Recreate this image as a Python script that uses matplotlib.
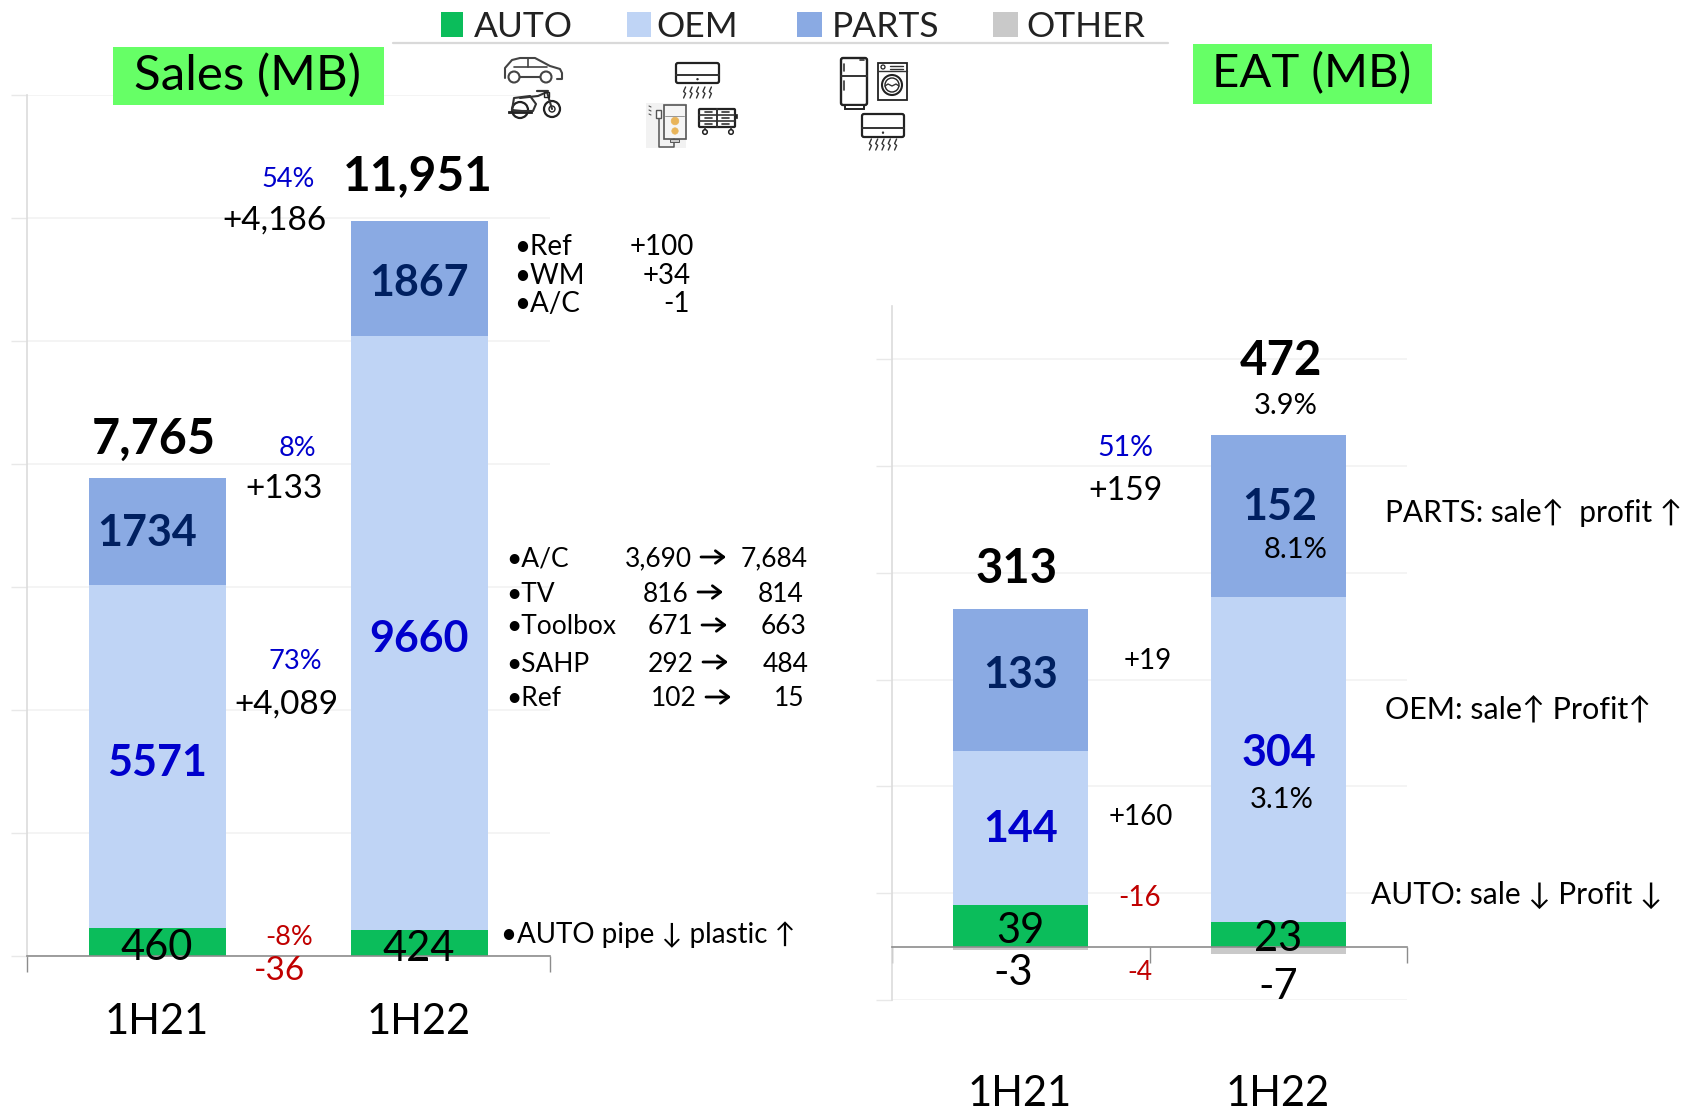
import matplotlib
matplotlib.use("Agg")
import matplotlib.pyplot as plt
from matplotlib.patches import Rectangle, Circle, FancyBboxPatch

plt.rcParams['font.family'] = ['Lato', 'DejaVu Sans']

W, H = 1693, 1115

categories = ["1H21", "1H22"]
series_names = ["AUTO", "OEM", "PARTS", "OTHER"]
series_colors = ["#0bbd5b", "#bfd4f5", "#8aaae3", "#c9c9c9"]

sales_auto = [460, 424]
sales_oem = [5571, 9660]
sales_parts = [1734, 1867]
sales_total = ["7,765", "11,951"]

eat_auto = [39, 23]
eat_oem = [144, 304]
eat_parts = [133, 152]
eat_other = [-3, -7]
eat_total = ["313", "472"]

BLUE, NAVY, RED = "#0000cc", "#002060", "#c00000"

fig = plt.figure(figsize=(W / 100, H / 100), dpi=100, facecolor="white")


def make_axes(x0, x1, ytop, ybot):
    return fig.add_axes([x0 / W, 1 - ybot / H, (x1 - x0) / W, (ybot - ytop) / H])


def style(ax, ylim, yticks, xticks):
    ax.set_xlim(-0.5, 1.5)
    ax.set_ylim(*ylim)
    ax.set_yticks(yticks)
    ax.set_xticks(xticks)
    ax.set_xticklabels([])
    ax.set_yticklabels([])
    ax.grid(axis="y", color="#f2f2f2", lw=1.2, zorder=0)
    ax.set_axisbelow(True)
    for s in ("top", "right"):
        ax.spines[s].set_visible(False)
    ax.spines["left"].set_color("#dcdcdc")
    ax.spines["left"].set_linewidth(1.2)
    ax.spines["bottom"].set_position(("data", 0))
    ax.spines["bottom"].set_color("#8c8c8c")
    ax.spines["bottom"].set_linewidth(1.2)
    ax.tick_params(axis="y", length=11.5, color="#e8e8e8", width=1)
    ax.tick_params(axis="x", length=11.5, color="#8c8c8c", width=1)


def stack(ax, layers, colors, width=0.525):
    x = range(len(categories))
    bottom = [0] * len(categories)
    for vals, col in zip(layers, colors):
        ax.bar(x, vals, width=width, bottom=bottom, color=col, zorder=2)
        bottom = [b + v for b, v in zip(bottom, vals)]


# Sales chart
ax1 = make_axes(27, 550, 95, 956)
style(ax1, (0, 14000), range(0, 14001, 2000), [-0.5, 1.5])
stack(ax1, [sales_auto, sales_oem, sales_parts], series_colors[:3])

# EAT chart
ax2 = make_axes(892, 1407, 306, 1000)
style(ax2, (-50, 600), range(-50, 551, 100), [-0.5, 0.5, 1.5])
stack(ax2, [eat_auto, eat_oem, eat_parts], series_colors[:3])
ax2.bar(range(2), eat_other, width=0.525, color=series_colors[3], zorder=2)

# Overlay in pixel space for annotations
ov = fig.add_axes([0, 0, 1, 1], facecolor="none")
ov.set_xlim(0, W)
ov.set_ylim(H, 0)
ov.axis("off")


def T(x, yc, s, pt, color="black", ha="center", weight="normal", z=6):
    ov.text(x, yc + pt / 2, s, fontsize=pt, color=color, ha=ha, va="baseline",
            fontweight=weight, zorder=z)


def L(xs, ys, lw=1.3, c="#333333", z=5):
    ov.plot(xs, ys, color=c, lw=lw, solid_capstyle="round", zorder=z)


def R(x0, y0, x1, y1, fc="none", ec="#222222", lw=1.3, z=5, round_=0):
    if round_:
        ov.add_patch(FancyBboxPatch((x0, y0), x1 - x0, y1 - y0,
                                    boxstyle=f"round,pad=0,rounding_size={round_}",
                                    fc=fc, ec=ec, lw=lw, zorder=z))
    else:
        ov.add_patch(Rectangle((x0, y0), x1 - x0, y1 - y0, fc=fc, ec=ec, lw=lw, zorder=z))


def C(x, y, r, fc="white", ec="#222222", lw=1.3, z=5):
    ov.add_patch(Circle((x, y), r, fc=fc, ec=ec, lw=lw, zorder=z))


# Title boxes
R(113, 47, 384, 105, fc="#66ff66", ec="none", z=4)
R(1193, 44, 1432, 104, fc="#66ff66", ec="none", z=4)
T(247, 72, "Sales (MB)", 35.5)
T(1312, 70, "EAT (MB)", 34)

# Legend
leg_sq = [(441, 463), (627, 651), (797, 822), (993, 1018)]
leg_tx = [474, 656, 832, 1026]
for (a, b), tx, name, col in zip(leg_sq, leg_tx, series_names, series_colors):
    R(a, 12, b, 37, fc=col, ec="none")
    T(tx, 24, name, 25.5, color="#222222", ha="left")
L([393, 1168], [43, 43], lw=1.6, c="#d9d9d9")

# Sales labels
T(154, 436, sales_total[0], 35, weight="bold")
T(418, 173, sales_total[1], 34.5, weight="bold")
T(147, 531, str(sales_parts[0]), 31, NAVY, weight="bold")
T(419, 281, str(sales_parts[1]), 31, NAVY, weight="bold")
T(157, 760, str(sales_oem[0]), 31, BLUE, weight="bold")
T(419, 636, str(sales_oem[1]), 31, BLUE, weight="bold")
T(157, 945, str(sales_auto[0]), 30)
T(419, 946, str(sales_auto[1]), 30)
T(157, 1019, categories[0], 30)
T(419, 1019, categories[1], 30)

T(288, 177, "54%", 19.5, BLUE)
T(274, 218, "+4,186", 24)
T(297, 446, "8%", 19.5, BLUE)
T(284, 486, "+133", 24)
T(295, 659, "73%", 19.5, BLUE)
T(286, 702, "+4,089", 24)
T(289, 935, "-8%", 19.5, RED)
T(280, 968, "-36", 24, RED)

# Parts notes
notes_parts = [("•Ref", "+100", 245, 694), ("•WM", "+34", 274, 691), ("•A/C", "-1", 302, 690)]
for name, val, y, xr in notes_parts:
    T(514, y, name, 20, ha="left")
    T(xr, y, val, 20, ha="right")

# OEM notes
notes_oem = [("•A/C", "3,690", "7,684", 557, 692, 808),
             ("•TV", "816", "814", 592, 689, 804),
             ("•Toolbox", "671", "663", 625, 693, 807),
             ("•SAHP", "292", "484", 662, 694, 809),
             ("•Ref", "102", "15", 697, 697, 804)]
for name, a, b, y, xa, xb in notes_oem:
    T(506, y, name, 19, ha="left")
    T(xa, y, a, 19, ha="right")
    T(xb, y, b, 19, ha="right")
    ov.annotate("", xy=(xa + 34, y), xytext=(xa + 9, y),
                arrowprops=dict(arrowstyle="->,head_length=0.6,head_width=0.45",
                                lw=2.0, color="black", shrinkA=0, shrinkB=0))

T(501, 933, "•AUTO pipe ↓ plastic ↑", 20, ha="left")

# EAT labels
T(1017, 566, eat_total[0], 34, weight="bold")
T(1281, 358, eat_total[1], 34, weight="bold")
T(1286, 403, "3.9%", 21)
T(1021, 672, str(eat_parts[0]), 31, NAVY, weight="bold")
T(1280, 504, str(eat_parts[1]), 31, NAVY, weight="bold")
T(1296, 547, "8.1%", 21)
T(1021, 826, str(eat_oem[0]), 31, BLUE, weight="bold")
T(1279, 750, str(eat_oem[1]), 31, BLUE, weight="bold")
T(1282, 798, "3.1%", 21)
T(1020, 928, str(eat_auto[0]), 30)
T(1278, 936, str(eat_auto[1]), 30)
T(1013, 970, str(eat_other[0]), 30)
T(1278, 984, str(eat_other[1]), 30)
T(1020, 1091, categories[0], 30)
T(1278, 1091, categories[1], 30)

T(1125, 446, "51%", 20.5, BLUE)
T(1125, 489, "+159", 23)
T(1148, 659, "+19", 20)
T(1141, 815, "+160", 20)
T(1140, 896, "-16", 20, RED)
T(1140, 971, "-4", 19, RED)

T(1385, 511, "PARTS: sale↑  profit ↑", 21.5, ha="left")
T(1385, 708, "OEM: sale↑ Profit↑", 22, ha="left")
T(1371, 893, "AUTO: sale ↓ Profit ↓", 21.5, ha="left")


# Icons
def wall_ac(x0, y0, x1, y1, wy0, wy1):
    R(x0, y0, x1, y1, fc="white", lw=1.6, round_=2)
    mid = y0 + (y1 - y0) * 0.62
    L([x0, x1], [mid, mid], lw=1.4)
    C((x0 + x1) / 2, (mid + y1) / 2, 0.8, fc="#222222", lw=0.5)
    n = 5
    for i in range(n):
        wx = x0 + (x1 - x0) * (0.2 + 0.15 * i)
        ym = (wy0 + wy1) / 2
        L([wx + 1, wx - 1, wx + 1, wx - 1],
          [wy0, ym - 1, ym + 1, wy1], lw=1.0)


# car
L([505, 505, 512, 520, 535, 550, 560, 562, 562, 557],
  [78, 68, 60, 58, 58, 66, 69, 73, 79, 79], c="#444444", lw=1.5)
L([514, 528, 528], [67, 67, 59], c="#444444", lw=1.2)
L([528, 547], [67, 67], c="#444444", lw=1.2)
L([520, 540], [77, 77], c="#444444", lw=1.5)
C(514, 77, 5.5, ec="#444444", lw=1.5)
C(546, 77, 5.5, ec="#444444", lw=1.5)
# motorbike
C(520, 110, 8, lw=1.6)
C(552, 109, 8, lw=1.6)
C(552, 109, 3, lw=1.0)
R(508, 111, 532, 113, fc="#222222", lw=0.6)
L([512, 514, 530, 536, 533, 522, 512], [110, 98, 96, 104, 111, 111, 110], lw=1.5)
L([520, 538, 547, 552], [98, 96, 92, 109], lw=1.5)
L([537, 548], [91, 91], lw=1.6)
R(544, 92, 549, 97, lw=1)

# OEM icons
wall_ac(676, 63, 719, 83, 87, 98)
R(646, 103, 686, 148, fc="#f2f2f2", ec="none", z=4)
R(664, 105, 686, 139, fc="#f5f5f5", ec="#555555", lw=1.2)
C(675, 121, 3.8, fc="#e8b45a", ec="#e8b45a", lw=0.5)
C(675, 131, 3.2, fc="#e8b45a", ec="#e8b45a", lw=0.5)
L([665, 684], [116, 116], c="#888888", lw=0.6)
L([674, 674, 659, 659], [139, 147, 147, 118], c="#555555", lw=1.1)
R(656, 110, 661, 118, fc="white", ec="#555555", lw=1)
R(670, 139, 679, 142, fc="#cccccc", ec="#555555", lw=0.7)
for dy in (106, 110, 114):
    L([649, 651], [dy, dy + 1], c="#555555", lw=0.8)
R(699, 109, 735, 127, fc="white", lw=1.6, round_=1)
L([717, 717], [109, 127], lw=1.4)
for yy in (115, 121):
    L([699, 735], [yy, yy], lw=1.2)
for yy in (112, 118, 124):
    L([705, 712], [yy, yy], lw=1.2)
    L([722, 729], [yy, yy], lw=1.2)
R(735, 114, 737, 118, fc="#222222", lw=0.5)
L([705, 705], [127, 131], lw=1.2)
L([731, 731], [127, 131], lw=1.2)
C(705, 132, 2.3, lw=1.1)
C(731, 132, 2.3, lw=1.1)

# PARTS icons
R(841, 58, 867, 105, fc="white", lw=1.7, round_=2)
L([841, 867], [76, 76], lw=1.4)
L([844, 844], [64, 71], lw=1.2)
L([844, 844], [81, 90], lw=1.2)
L([860, 864], [60, 60], lw=1.2)
R(845, 105, 864, 109, fc="white", lw=1.4)
R(878, 63, 907, 100, fc="white", lw=1.3)
L([878, 907], [71, 71], lw=1.0)
C(883, 67, 2, lw=0.9)
L([890, 903], [66, 66], lw=1.0)
L([890, 903], [69, 69], lw=1.0)
C(892, 85, 10, lw=1.5)
C(892, 85, 7, lw=1.0)
L([885, 888, 892, 896, 899], [86, 84, 86, 84, 86], lw=1.0)
wall_ac(862, 114, 904, 137, 139, 150)

fig.savefig("out.png", dpi=100, facecolor="white")
